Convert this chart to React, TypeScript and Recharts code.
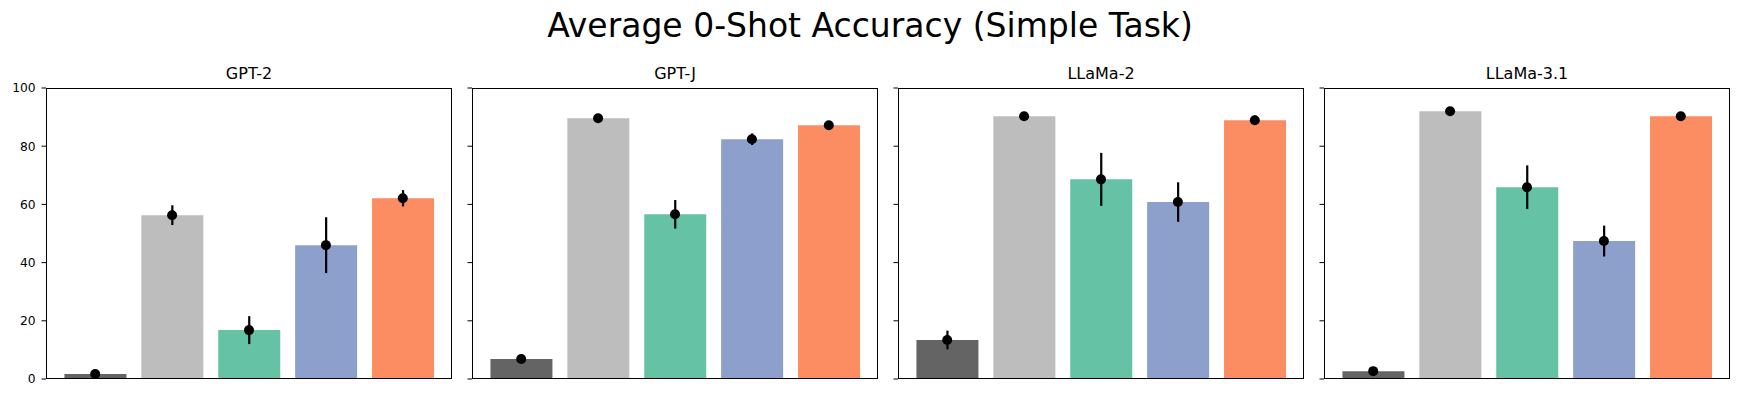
import { ComposedChart, Bar, Line, Cell, ErrorBar, XAxis, YAxis } from 'recharts';

const suptitle = 'Average 0-Shot Accuracy (Simple Task)';
const models = ['GPT-2', 'GPT-J', 'LLaMa-2', 'LLaMa-3.1'];
const methods = ['M1', 'M2', 'M3', 'M4', 'M5'];
const colors = ['#646464', '#bdbdbd', '#66c2a5', '#8da0cb', '#fc8d62'];
const yTicks = [0, 20, 40, 60, 80, 100];

const gpt2Mean = [1.7, 56.3, 16.8, 46.0, 62.1];
const gpt2Err = [0.5, 3.4, 4.8, 9.6, 2.8];
const gptjMean = [6.9, 89.6, 56.6, 82.4, 87.2];
const gptjErr = [1.0, 0.5, 4.9, 2.0, 0.8];
const llama2Mean = [13.4, 90.3, 68.6, 60.8, 88.9];
const llama2Err = [3.2, 0.6, 9.1, 6.8, 1.6];
const llama31Mean = [2.7, 92.0, 65.9, 47.4, 90.3];
const llama31Err = [0.8, 0.5, 7.5, 5.3, 1.0];

const means = [gpt2Mean, gptjMean, llama2Mean, llama31Mean];
const errs = [gpt2Err, gptjErr, llama2Err, llama31Err];

const FONT = '"DejaVu Sans", sans-serif';
const PLOT_W = 406;
const PLOT_TOP = 88;
const PLOT_BOTTOM = 379;
const AXIS_W = 46;
const panelLefts = [46, 472, 898, 1324];

function Panel({ idx }: { idx: number }) {
  const data = methods.map((m, i) => ({ name: m, mean: means[idx][i], err: errs[idx][i] }));
  const left = panelLefts[idx];
  return (
    <>
      <div style={{ position: 'absolute', left: left - AXIS_W, top: 0 }}>
        <ComposedChart
          width={AXIS_W + PLOT_W + 4}
          height={397}
          data={data}
          margin={{ top: PLOT_TOP, right: 4, bottom: 397 - PLOT_BOTTOM, left: 0 }}
          barCategoryGap="10%"
        >
          <XAxis dataKey="name" type="category" hide padding={{ left: 10.75, right: 10.75 }} />
          <YAxis
            type="number"
            domain={[0, 100]}
            ticks={yTicks}
            width={AXIS_W}
            axisLine={false}
            tickSize={4.5}
            tickMargin={5.8}
            tickLine={{ stroke: '#000', strokeWidth: 1 }}
            tick={{ fill: '#000', fontSize: 12.3, fontFamily: FONT }}
            tickFormatter={idx === 0 ? (v: number) => String(v) : () => ''}
            allowDataOverflow
          />
          <Bar dataKey="mean" isAnimationActive={false}>
            {data.map((d, i) => (
              <Cell key={`c-${i}`} fill={colors[i]} />
            ))}
            <ErrorBar dataKey="err" width={0} stroke="#000" strokeWidth={2.2} direction="y" />
          </Bar>
          <Line
            dataKey="mean"
            stroke="none"
            isAnimationActive={false}
            dot={{ r: 5, fill: '#000', stroke: 'none' }}
            activeDot={false}
          />
        </ComposedChart>
      </div>
      <div
        style={{
          position: 'absolute',
          left,
          top: PLOT_TOP,
          width: PLOT_W,
          height: PLOT_BOTTOM - PLOT_TOP,
          border: '1px solid #000',
          boxSizing: 'border-box',
          pointerEvents: 'none',
        }}
      />
    </>
  );
}

export default function App() {
  return (
    <div style={{ position: 'absolute', left: 0, top: 0, width: 1739, height: 397, background: '#fff' }}>
      <svg width={1739} height={397} style={{ position: 'absolute', left: 0, top: 0 }}>
        <text x={870} y={36.5} textAnchor="middle" fontSize={33} fontFamily={FONT} fill="#000">
          {suptitle}
        </text>
        {models.map((m, i) => (
          <text
            key={m}
            x={panelLefts[i] + PLOT_W / 2}
            y={79}
            textAnchor="middle"
            fontSize={16}
            fontFamily={FONT}
            fill="#000"
          >
            {m}
          </text>
        ))}
      </svg>
      {models.map((m, i) => (
        <Panel key={m} idx={i} />
      ))}
    </div>
  );
}
